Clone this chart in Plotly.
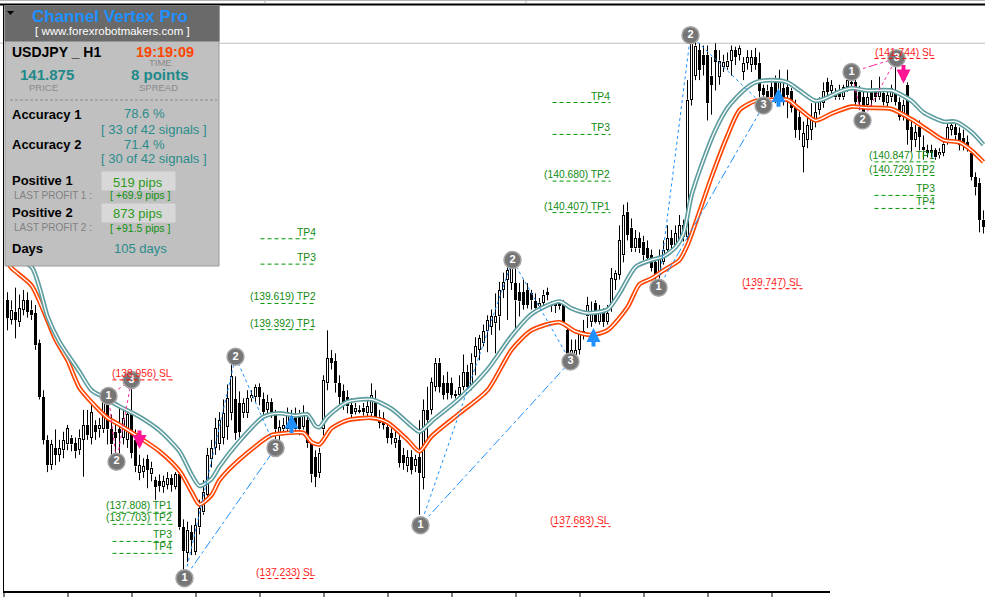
import plotly.graph_objects as go

# ---------------- data (USDJPY H1, prices) ----------------
open_ = [
    139.59, 139.42, 139.49, 139.40, 139.51, 139.59, 139.51, 139.48, 139.22, 138.75,
    138.38, 138.16, 138.31, 138.25, 138.29, 138.34, 138.40, 138.35, 138.29, 138.38,
    138.51, 138.40, 138.51, 138.47, 138.47, 138.68, 138.47, 138.45, 138.47, 138.40,
    138.38, 138.61, 138.38, 138.09, 138.10, 138.21, 138.08, 138.03, 138.02, 137.97,
    137.99, 138.05, 137.97, 138.08, 137.62, 137.40, 137.58, 137.41, 137.62, 137.75,
    137.90, 138.21, 138.31, 138.34, 138.40, 138.49, 138.61, 138.73, 138.70, 138.61,
    138.61, 138.74, 138.75, 138.84, 138.73, 138.64, 138.71, 138.61, 138.44, 138.47,
    138.47, 138.55, 138.60, 138.58, 138.49, 138.55, 138.35, 138.23, 138.09, 138.47,
    138.87, 139.09, 139.06, 138.87, 138.80, 138.75, 138.68, 138.62, 138.63, 138.66,
    138.61, 138.61, 138.73, 138.58, 138.57, 138.49, 138.44, 138.35, 138.38, 138.25,
    138.15, 138.23, 138.15, 138.23, 138.05, 138.64, 138.64, 138.84, 139.05, 138.87,
    138.87, 138.87, 138.76, 138.77, 138.84, 138.97, 138.84, 139.10, 139.16, 139.22,
    139.32, 139.36, 139.39, 139.45, 139.68, 139.77, 139.74, 139.74, 139.66, 139.66,
    139.68, 139.65, 139.58, 139.54, 139.57, 139.64, 139.56, 139.57, 139.57, 139.55,
    139.33, 139.12, 139.12, 139.16, 139.32, 139.45, 139.40, 139.57, 139.40, 139.48,
    139.40, 139.55, 139.77, 139.81, 139.98, 140.36, 140.22, 140.04, 140.13, 140.10,
    140.04, 139.98, 139.92, 139.84, 139.92, 140.03, 140.13, 140.07, 140.11, 140.24,
    140.14, 141.33, 141.54, 141.76, 141.72, 141.72, 141.54, 141.76, 141.53, 141.61,
    141.61, 141.67, 141.76, 141.72, 141.57, 141.65, 141.63, 141.70, 141.65, 141.43,
    141.41, 141.44, 141.52, 141.35, 141.43, 141.44, 141.41, 141.27, 141.18, 140.92,
    140.98, 141.07, 141.14, 141.24, 141.30, 141.48, 141.41, 141.39, 141.41, 141.35,
    141.44, 141.48, 141.48, 141.40, 141.35, 141.28, 141.41, 141.40, 141.35, 141.39,
    141.30, 141.35, 141.41, 141.31, 141.18, 141.46, 141.09, 140.98, 141.09, 140.92,
    140.89, 140.87, 140.89, 140.85, 140.87, 140.96, 141.07, 141.09, 141.04, 141.00,
    140.96, 140.87, 140.66, 140.61, 140.29,
]
high = [
    139.66, 139.59, 139.70, 139.64, 139.68, 139.66, 139.59, 139.55, 139.25, 138.81,
    138.42, 138.38, 138.47, 138.38, 138.45, 138.51, 138.42, 138.40, 138.47, 138.64,
    138.64, 138.68, 138.55, 138.57, 138.76, 138.74, 138.60, 138.55, 138.66, 138.64,
    138.64, 138.90, 138.47, 138.25, 138.22, 138.25, 138.19, 138.06, 138.08, 138.07,
    138.10, 138.08, 138.10, 138.12, 137.69, 137.67, 137.64, 137.70, 137.86, 138.03,
    138.31, 138.38, 138.57, 138.62, 138.73, 138.86, 139.09, 138.93, 138.80, 138.74,
    138.81, 138.81, 138.86, 138.87, 138.79, 138.77, 138.74, 138.64, 138.55, 138.57,
    138.66, 138.64, 138.66, 138.64, 138.68, 138.62, 138.38, 138.29, 138.31, 138.94,
    139.33, 139.16, 139.13, 138.94, 138.86, 138.81, 138.74, 138.70, 138.68, 138.70,
    138.73, 138.87, 138.81, 138.64, 138.62, 138.55, 138.48, 138.47, 138.42, 138.31,
    138.29, 138.29, 138.25, 138.55, 138.73, 138.84, 138.92, 139.09, 139.09, 138.94,
    138.97, 138.92, 138.81, 138.94, 139.12, 139.03, 139.13, 139.27, 139.29, 139.38,
    139.46, 139.51, 139.65, 139.75, 139.83, 139.88, 139.94, 139.91, 139.74, 139.77,
    139.74, 139.68, 139.65, 139.61, 139.68, 139.70, 139.58, 139.58, 139.59, 139.59,
    139.36, 139.25, 139.25, 139.33, 139.42, 139.62, 139.58, 139.59, 139.55, 139.52,
    139.55, 139.87, 139.85, 140.24, 140.42, 140.44, 140.30, 140.20, 140.18, 140.15,
    140.11, 140.03, 139.96, 140.03, 140.11, 140.24, 140.20, 140.24, 140.33, 140.29,
    141.50, 141.91, 141.85, 141.82, 141.80, 141.80, 141.70, 141.82, 141.76, 141.72,
    141.74, 141.80, 141.79, 141.80, 141.70, 141.76, 141.76, 141.78, 141.74, 141.46,
    141.46, 141.48, 141.54, 141.59, 141.50, 141.59, 141.43, 141.33, 141.24, 141.14,
    141.20, 141.30, 141.31, 141.35, 141.48, 141.52, 141.50, 141.43, 141.46, 141.46,
    141.52, 141.54, 141.50, 141.45, 141.41, 141.40, 141.50, 141.43, 141.53, 141.43,
    141.41, 141.46, 141.66, 141.35, 141.33, 141.48, 141.17, 141.11, 141.15, 141.02,
    140.94, 140.94, 140.91, 140.91, 141.00, 141.14, 141.15, 141.15, 141.09, 141.07,
    141.02, 140.89, 140.70, 140.65, 140.37,
]
low = [
    139.33, 139.38, 139.26, 139.36, 139.46, 139.44, 139.42, 139.16, 138.73, 138.34,
    138.10, 138.12, 138.16, 138.19, 138.22, 138.29, 138.28, 138.22, 138.25, 138.06,
    138.38, 138.34, 138.38, 138.40, 138.44, 138.34, 138.21, 138.21, 138.25, 138.34,
    138.31, 138.22, 138.10, 138.03, 138.05, 137.96, 138.02, 137.86, 137.93, 137.92,
    137.95, 137.93, 137.95, 137.60, 137.23, 137.32, 137.38, 137.38, 137.56, 137.73,
    137.86, 138.14, 138.25, 138.29, 138.34, 138.38, 138.55, 138.38, 138.40, 138.57,
    138.57, 138.71, 138.71, 138.68, 138.58, 138.60, 138.57, 138.36, 138.38, 138.42,
    138.45, 138.51, 138.45, 138.42, 138.47, 138.31, 138.01, 137.97, 138.05, 138.42,
    138.81, 138.99, 138.79, 138.68, 138.64, 138.61, 138.55, 138.60, 138.61, 138.59,
    138.57, 138.57, 138.55, 138.48, 138.47, 138.35, 138.34, 138.31, 138.14, 138.12,
    138.10, 138.08, 138.10, 137.73, 137.95, 138.38, 138.60, 138.80, 138.79, 138.73,
    138.73, 138.74, 138.74, 138.75, 138.81, 138.80, 138.81, 138.94, 139.07, 139.19,
    139.14, 139.29, 139.13, 139.33, 139.61, 139.42, 139.68, 139.33, 139.45, 139.51,
    139.52, 139.51, 139.49, 139.51, 139.52, 139.59, 139.49, 139.48, 139.51, 139.38,
    139.07, 139.09, 139.10, 139.12, 139.25, 139.35, 139.36, 139.39, 139.38, 139.36,
    139.38, 139.49, 139.68, 139.77, 139.92, 140.11, 140.01, 140.01, 140.00, 139.94,
    139.92, 139.84, 139.77, 139.78, 139.90, 139.98, 140.01, 140.03, 140.07, 140.10,
    140.10, 141.28, 141.50, 141.50, 141.54, 141.15, 141.20, 141.41, 141.46, 141.57,
    141.59, 141.54, 141.63, 141.67, 141.50, 141.59, 141.57, 141.59, 141.35, 141.33,
    141.30, 141.28, 141.30, 141.30, 141.28, 141.17, 141.22, 141.00, 140.98, 140.70,
    140.91, 140.98, 141.09, 141.20, 141.26, 141.35, 141.37, 141.33, 141.33, 141.33,
    141.40, 141.43, 141.28, 141.24, 141.15, 141.26, 141.24, 141.31, 141.33, 141.28,
    141.27, 141.31, 141.28, 141.15, 141.15, 140.94, 140.88, 140.92, 140.89, 140.81,
    140.83, 140.83, 140.81, 140.82, 140.84, 140.94, 141.02, 140.98, 140.89, 140.89,
    140.88, 140.63, 140.50, 140.18, 140.17,
]
close = [
    139.44, 139.51, 139.42, 139.52, 139.59, 139.49, 139.46, 139.20, 138.75, 138.38,
    138.16, 138.34, 138.25, 138.31, 138.38, 138.48, 138.34, 138.28, 138.40, 138.51,
    138.42, 138.62, 138.45, 138.51, 138.71, 138.47, 138.34, 138.40, 138.44, 138.57,
    138.60, 138.27, 138.15, 138.16, 138.15, 138.12, 138.14, 137.97, 137.98, 138.02,
    138.05, 137.99, 138.08, 137.62, 137.42, 137.60, 137.51, 137.64, 137.79, 137.93,
    138.25, 138.31, 138.48, 138.55, 138.61, 138.74, 138.93, 138.44, 138.45, 138.70,
    138.74, 138.77, 138.84, 138.75, 138.62, 138.71, 138.62, 138.47, 138.49, 138.51,
    138.62, 138.61, 138.47, 138.47, 138.61, 138.35, 138.08, 138.06, 138.27, 138.90,
    139.09, 139.05, 138.87, 138.75, 138.71, 138.67, 138.60, 138.66, 138.64, 138.62,
    138.67, 138.77, 138.58, 138.53, 138.51, 138.40, 138.40, 138.40, 138.18, 138.18,
    138.23, 138.12, 138.21, 138.09, 138.64, 138.55, 138.88, 139.05, 138.84, 138.77,
    138.79, 138.77, 138.78, 138.84, 138.97, 138.84, 139.05, 139.19, 139.26, 139.32,
    139.42, 139.45, 139.45, 139.68, 139.75, 139.85, 139.87, 139.59, 139.58, 139.55,
    139.55, 139.59, 139.52, 139.57, 139.64, 139.66, 139.54, 139.54, 139.54, 139.40,
    139.10, 139.16, 139.16, 139.31, 139.29, 139.55, 139.49, 139.40, 139.48, 139.40,
    139.48, 139.78, 139.83, 140.11, 140.33, 140.16, 140.04, 140.13, 140.04, 139.98,
    139.96, 139.87, 139.81, 139.96, 140.03, 140.13, 140.07, 140.17, 140.24, 140.14,
    141.33, 141.85, 141.80, 141.59, 141.63, 141.30, 141.46, 141.66, 141.67, 141.66,
    141.67, 141.76, 141.70, 141.78, 141.65, 141.70, 141.70, 141.63, 141.41, 141.37,
    141.35, 141.35, 141.35, 141.50, 141.33, 141.37, 141.26, 141.07, 141.07, 141.04,
    141.11, 141.15, 141.22, 141.33, 141.41, 141.40, 141.46, 141.35, 141.35, 141.44,
    141.50, 141.47, 141.31, 141.31, 141.18, 141.35, 141.33, 141.35, 141.43, 141.31,
    141.37, 141.43, 141.31, 141.18, 141.28, 141.07, 140.98, 141.05, 141.01, 140.89,
    140.87, 140.89, 140.83, 140.88, 140.95, 141.09, 141.11, 141.02, 140.94, 140.95,
    140.92, 140.66, 140.57, 140.29, 140.23,
]

# channel lines (teal = upper, orange = lower), sampled at these bars
upper_bar = [0, 1, 6, 8, 10, 13, 18, 21, 24, 28, 33, 38, 43, 46, 48, 51, 53, 58, 64, 68,
             72, 75, 77, 78, 80, 85, 91, 96, 101, 103, 106, 113, 120, 126, 131, 138, 141,
             145, 150, 153, 157, 161, 164, 167, 169, 171, 174, 177, 180, 184, 187, 191,
             195, 198, 202, 205, 208, 211, 215, 221, 226, 229, 234, 237, 241, 244]
upper_val = [140.01, 139.96, 139.88, 139.70, 139.45, 139.23, 138.97, 138.81, 138.75, 138.67,
             138.58, 138.46, 138.28, 138.08, 137.98, 138.04, 138.15, 138.37, 138.58, 138.61,
             138.59, 138.60, 138.50, 138.49, 138.58, 138.71, 138.73, 138.65, 138.50, 138.45,
             138.54, 138.74, 138.99, 139.28, 139.47, 139.58, 139.52, 139.48, 139.51, 139.65,
             139.88, 139.94, 139.97, 140.05, 140.17, 140.50, 140.81, 141.07, 141.26, 141.41,
             141.48, 141.50, 141.48, 141.41, 141.32, 141.35, 141.40, 141.43, 141.41, 141.41,
             141.32, 141.22, 141.14, 141.14, 141.05, 140.94]
lower_bar = [0, 1, 6, 9, 12, 15, 18, 22, 25, 28, 33, 38, 43, 46, 48, 51, 53, 58, 66, 70,
             74, 76, 78, 81, 85, 91, 95, 100, 103, 106, 113, 120, 126, 131, 138, 142, 146,
             150, 155, 158, 161, 164, 168, 170, 173, 176, 180, 183, 187, 191, 195, 198,
             202, 206, 211, 215, 221, 226, 230, 234, 238, 241, 244]
lower_val = [139.92, 139.87, 139.72, 139.50, 139.25, 139.07, 138.83, 138.67, 138.57, 138.51,
             138.40, 138.28, 138.11, 137.93, 137.82, 137.90, 138.03, 138.21, 138.42, 138.44,
             138.44, 138.36, 138.34, 138.48, 138.55, 138.57, 138.53, 138.38, 138.28, 138.41,
             138.61, 138.81, 139.16, 139.33, 139.40, 139.32, 139.29, 139.33, 139.53, 139.73,
             139.78, 139.85, 139.94, 140.07, 140.36, 140.66, 141.02, 141.24, 141.32, 141.33,
             141.33, 141.25, 141.15, 141.21, 141.27, 141.26, 141.25, 141.16, 141.07, 140.98,
             140.96, 140.89, 140.79]

# numbered pivots (1-2-3) of each signal
sig_bar = [25.25, 27.25, 31, 44.25, 57, 67, 103.25, 126.25, 140.75,
           162.75, 170.75, 189, 211, 213.75, 222.25]
sig_price = [138.76, 138.19, 138.90, 137.18, 139.10, 138.31, 137.64, 139.94, 139.06,
             139.70, 141.89, 141.28, 141.57, 141.15, 141.69]
sig_label = ["1", "2", "3"] * 5
sig_side = ["sell", "buy", "buy", "buy", "sell"]

# entry arrows
arrow_bar = [33, 71, 146.5, 192.75, 224]
arrow_price = [138.30, 138.60, 139.35, 141.43, 141.47]
arrow_dir = ["down", "up", "up", "up", "down"]

# TP / SL levels
level_text = ["(138.956) SL", "(137.808) TP1", "(137.703) TP2", "TP3", "TP4",
              "TP4", "TP3", "(139.619) TP2", "(139.392) TP1", "(137.233) SL",
              "TP4", "TP3", "(140.680) TP2", "(140.407) TP1", "(137.683) SL",
              "(139.747) SL",
              "(141.744) SL", "(140.847) TP1", "(140.729) TP2", "TP3", "TP4"]
level_price = [138.956, 137.808, 137.703, 137.555, 137.451,
               140.18, 139.96, 139.619, 139.392, 137.233,
               141.362, 141.085, 140.680, 140.407, 137.683,
               139.747,
               141.744, 140.847, 140.729, 140.556, 140.443]
level_bar0 = [26.25] * 5 + [63.25] * 5 + [136.25] * 5 + [184] + [216.75] * 5
level_bar1 = [41.25] * 5 + [77.25] * 5 + [150.75] * 5 + [198.75] + [232] * 5

ref_line_price = 141.82
tick_bars = [-0.875 + 16 * k for k in range(13)]

panel_symbol = "USDJPY _ H1"
panel_time = "19:19:09"
panel_price = "141.875"
panel_spread = "8 points"
acc1, acc1_sig = "78.6 %", "[ 33 of 42 signals ]"
acc2, acc2_sig = "71.4 %", "[ 30 of 42 signals ]"
pos1, last1 = "519 pips", "[ +69.9 pips ]"
pos2, last2 = "873 pips", "[ +91.5 pips ]"
days = "105 days"

# ---------------- figure ----------------
W, H = 985, 613
Y_RANGE = [136.878, 142.195]
PRICE_PER_PX = (Y_RANGE[1] - Y_RANGE[0]) / H
fig = go.Figure()

n = len(open_)
# wicks (split so they never cross the bodies)
wx, wy = [], []
for i in range(n):
    top = max(open_[i], close[i])
    bot = min(open_[i], close[i])
    if high[i] > top:
        wx += [i, i, None]
        wy += [high[i], top, None]
    if low[i] < bot:
        wx += [i, i, None]
        wy += [bot, low[i], None]
fig.add_scatter(x=wx, y=wy, mode="lines", line=dict(color="black", width=1),
                hoverinfo="skip", showlegend=False)

# bodies: black 3px block, white 1px core for bullish candles
fig.add_bar(x=list(range(n)),
            y=[max(abs(close[i] - open_[i]), PRICE_PER_PX) for i in range(n)],
            base=[min(open_[i], close[i]) for i in range(n)],
            width=0.75, marker=dict(color="black", line=dict(width=0)),
            hoverinfo="skip", showlegend=False)
bull = [i for i in range(n) if close[i] - open_[i] > 2.5 * PRICE_PER_PX]
fig.add_bar(x=bull,
            y=[close[i] - open_[i] - 2 * PRICE_PER_PX for i in bull],
            base=[open_[i] + PRICE_PER_PX for i in bull],
            width=0.25, marker=dict(color="white", line=dict(width=0)),
            hoverinfo="skip", showlegend=False)

# channel lines (double line look)
for bx, by, col in ((lower_bar, lower_val, "#ff4500"), (upper_bar, upper_val, "#5f9ea0")):
    fig.add_scatter(x=bx, y=by, mode="lines",
                    line=dict(color=col, width=4.6, shape="spline", smoothing=0.7),
                    hoverinfo="skip", showlegend=False)
    fig.add_scatter(x=bx, y=by, mode="lines",
                    line=dict(color="white", width=1.3, shape="spline", smoothing=0.7),
                    hoverinfo="skip", showlegend=False)

# pivot connectors
for k, side in enumerate(sig_side):
    col = "#1e90ff" if side == "buy" else "#ff2aa0"
    b = sig_bar[3 * k:3 * k + 3]
    p = sig_price[3 * k:3 * k + 3]
    fig.add_scatter(x=[b[0], b[1], b[2]], y=[p[0], p[1], p[2]], mode="lines",
                    line=dict(color=col, width=1, dash="dot"), hoverinfo="skip", showlegend=False)
    fig.add_scatter(x=[b[0], b[2]], y=[p[0], p[2]], mode="lines",
                    line=dict(color=col, width=1, dash="dashdot"), hoverinfo="skip", showlegend=False)

# pivot markers
fig.add_scatter(x=sig_bar, y=sig_price, mode="markers+text", text=sig_label,
                textposition="middle center",
                textfont=dict(color="white", size=11, family="Liberation Sans", weight="bold"),
                marker=dict(size=17, color="#767676", line=dict(color="#a6a6a6", width=1.5)),
                hoverinfo="skip", showlegend=False)

# arrows
for b, p, d in zip(arrow_bar, arrow_price, arrow_dir):
    col = "#1e90ff" if d == "up" else "#ff1493"
    fig.add_annotation(x=b, y=p, xref="x", yref="y", ax=0, ay=(20 if d == "up" else -20),
                       text="", showarrow=True, arrowhead=2, arrowsize=0.7,
                       arrowwidth=4, arrowcolor=col)

# TP / SL levels
LINE_OFFSET = 0.056
for t, p, b0, b1 in zip(level_text, level_price, level_bar0, level_bar1):
    is_sl = t.endswith("SL")
    col_line = "#ff0000" if is_sl else "#009600"
    col_txt = "#ff1a1a" if is_sl else "#118a11"
    fig.add_shape(type="line", xref="x", yref="y", x0=b0, x1=b1,
                  y0=p - LINE_OFFSET, y1=p - LINE_OFFSET,
                  line=dict(color=col_line, width=1, dash="4px,3px"), layer="above")
    fig.add_annotation(x=b1, y=p, xref="x", yref="y", text=t, showarrow=False,
                       xanchor="right", yanchor="middle", borderpad=0,
                       font=dict(size=10.3, color=col_txt,
                                 family="Liberation Sans Narrow, Liberation Sans"))

# grey reference line
fig.add_shape(type="line", xref="paper", yref="y", x0=0, x1=1,
              y0=ref_line_price, y1=ref_line_price,
              line=dict(color="#c0c0c0", width=1), layer="below")


def px(x):
    return x / W


def py(y):
    return 1 - y / H


def pline(x0, y0, x1, y1, color, width=1, dash=None):
    fig.add_shape(type="line", xref="paper", yref="paper", x0=px(x0), y0=py(y0),
                  x1=px(x1), y1=py(y1), line=dict(color=color, width=width, dash=dash),
                  layer="above")


def prect(x0, y0, x1, y1, fill, line=None):
    fig.add_shape(type="rect", xref="paper", yref="paper", x0=px(x0), y0=py(y0),
                  x1=px(x1), y1=py(y1), fillcolor=fill,
                  line=dict(color=line or fill, width=1), layer="above")


def ptxt(s, x, y, size, color, bold=False, anchor="left"):
    fig.add_annotation(xref="paper", yref="paper", x=px(x), y=py(y), text=s,
                       showarrow=False, xanchor=anchor, yanchor="middle", borderpad=0,
                       font=dict(size=size, color=color, family="Liberation Sans",
                                 weight="bold" if bold else "normal"))


# window frame / time axis
pline(0, 0.5, W, 0.5, "#b4b4b4")
pline(265, 0, 265, 3, "#b4b4b4")
pline(526, 0, 526, 3, "#b4b4b4")
pline(0, 4.5, W, 4.5, "black", 2)
pline(3.5, 4, 3.5, 593, "black", 1)
pline(3, 592, 830, 592, "black", 2)
for tb in tick_bars:
    fig.add_shape(type="line", xref="x", yref="paper", x0=tb, x1=tb,
                  y0=py(592), y1=py(597), line=dict(color="black", width=1), layer="above")

# info panel
prect(5, 6, 219, 266, "#c0c0c0", "#9a9a9a")
prect(5, 6, 219, 41, "#6a6a6a")
fig.add_shape(type="path", xref="paper", yref="paper",
              path=f"M {px(7)} {py(11)} L {px(14)} {py(11)} L {px(10.5)} {py(15)} Z",
              fillcolor="black", line=dict(color="black", width=0), layer="above")
pline(10, 100, 217, 100, "#8a8a8a", 1, "3px,2px")
prect(102, 172, 175, 190, "#d8d8d8")
prect(102, 204, 175, 222, "#d8d8d8")

ptxt("Channel Vertex Pro", 110, 17, 17, "#1e90ff", True, "center")
ptxt("[ www.forexrobotmakers.com ]", 112, 31, 11.5, "white", False, "center")
ptxt(panel_symbol, 11, 52, 14, "black", True)
ptxt(panel_time, 165, 52, 14.5, "#ff4500", True, "center")
ptxt("TIME", 160, 63, 9.5, "#8a8a8a", False, "center")
ptxt(panel_price, 47, 75, 15, "#1f8a8a", True, "center")
ptxt(panel_spread, 160, 75, 15, "#1f8a8a", True, "center")
ptxt("PRICE", 43, 88, 9.5, "#8a8a8a", False, "center")
ptxt("SPREAD", 158, 88, 9.5, "#8a8a8a", False, "center")
ptxt("Accuracy 1", 11, 115, 13, "black", True)
ptxt(acc1, 144, 114, 13, "#2a8c8c", False, "center")
ptxt(acc1_sig, 154, 129, 13, "#2a8c8c", False, "center")
ptxt("Accuracy 2", 11, 145, 13, "black", True)
ptxt(acc2, 144, 144, 13, "#2a8c8c", False, "center")
ptxt(acc2_sig, 154, 159, 13, "#2a8c8c", False, "center")
ptxt("Positive 1", 11, 180, 13, "black", True)
ptxt(pos1, 138, 182, 13, "#2e9a1a", False, "center")
ptxt("LAST PROFIT 1 :", 13, 195, 10, "#808080")
ptxt(last1, 140, 195, 10.5, "#109010", False, "center")
ptxt("Positive 2", 11, 212, 13, "black", True)
ptxt(pos2, 138, 213, 13, "#2e9a1a", False, "center")
ptxt("LAST PROFIT 2 :", 13, 228, 10, "#808080")
ptxt(last2, 140, 228, 10.5, "#109010", False, "center")
ptxt("Days", 11, 249, 13, "black", True)
ptxt(days, 140, 249, 13, "#2a8c8c", False, "center")

fig.update_layout(
    width=W, height=H, autosize=False,
    margin=dict(l=0, r=0, t=0, b=0),
    paper_bgcolor="white", plot_bgcolor="white",
    barmode="overlay", bargap=0, showlegend=False, hovermode=False,
    xaxis=dict(range=[-1.875, 244.375], visible=False, fixedrange=True),
    yaxis=dict(range=Y_RANGE, visible=False, fixedrange=True),
)

fig.write_html("out.html", config={"displayModeBar": False},
               post_script="document.body.style.margin='0px';"
                           "document.body.style.overflow='hidden';")
